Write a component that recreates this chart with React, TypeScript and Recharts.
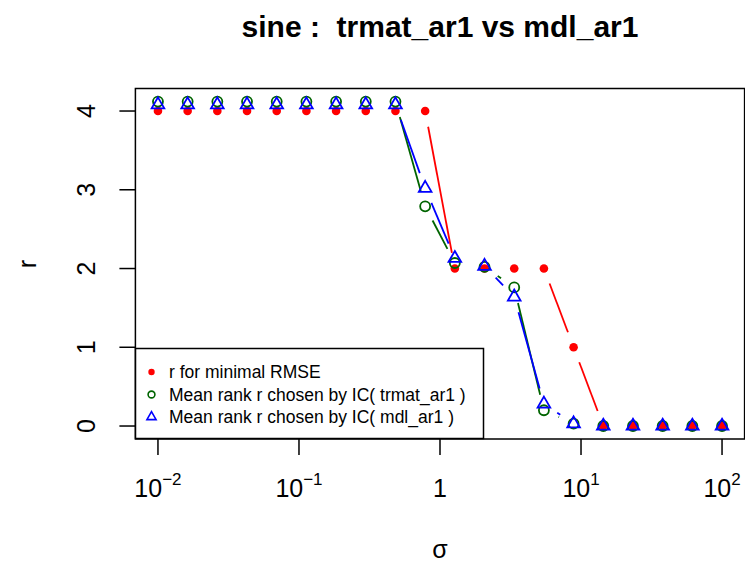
import {
  ComposedChart,
  Scatter,
  XAxis,
  YAxis,
  ReferenceArea,
  Legend,
} from 'recharts'

// sigma grid (20 log-spaced values, 1e-2 .. 1e2)
const sigma = [
  0.01, 0.01623777, 0.02636651, 0.04281332, 0.06951928, 0.1128838, 0.1832981,
  0.2976351, 0.483293, 0.78476, 1.274275, 2.069138, 3.359818, 5.455595,
  8.858668, 14.3845, 23.35721, 37.9269, 61.58482, 100,
]
const rMinRmse = [4, 4, 4, 4, 4, 4, 4, 4, 4, 4, 2, 2, 2, 2, 1, 0, 0, 0, 0, 0]
const rTrmat = [
  4.12, 4.12, 4.12, 4.12, 4.12, 4.12, 4.12, 4.12, 4.12, 2.79, 2.07, 2.02, 1.76,
  0.2, 0.03, 0, 0, 0, 0, 0,
]
const rMdl = [
  4.08, 4.08, 4.08, 4.08, 4.08, 4.08, 4.08, 4.08, 4.08, 3.02, 2.13, 2.03, 1.64,
  0.28, 0.03, 0, 0, 0, 0, 0,
]
const xTicks = [0.01, 0.1, 1, 10, 100]
const yTicks = [0, 1, 2, 3, 4]
const legendLabels = [
  'r for minimal RMSE',
  'Mean rank r chosen by IC( trmat_ar1 )',
  'Mean rank r chosen by IC( mdl_ar1 )',
]

const RED = '#ff0000'
const GREEN = '#006400'
const BLUE = '#0000ff'
const FONT = '"Liberation Sans", Arial, Helvetica, sans-serif'

// R's usr extends the data range by 4%
const XMIN = Math.pow(10, -2.16)
const XMAX = Math.pow(10, 2.16)
const YMIN = -0.1648
const YMAX = 4.2848

const GAP = 16 // type="b" gap around each point, px

const toRows = (ys: number[]) => sigma.map((x, i) => ({ x, y: ys[i] }))
const rmseRows = toRows(rMinRmse)
const trmatRows = toRows(rTrmat)
const mdlRows = toRows(rMdl)

const gappedLine = (color: string) => (props: any) => {
  const pts: { x: number; y: number }[] = props.points || []
  const segs = []
  for (let i = 0; i < pts.length - 1; i++) {
    const a = pts[i]
    const b = pts[i + 1]
    const dx = b.x - a.x
    const dy = b.y - a.y
    const len = Math.hypot(dx, dy)
    if (len <= 2 * GAP) continue
    const f = GAP / len
    segs.push(
      <line
        key={i}
        x1={a.x + dx * f}
        y1={a.y + dy * f}
        x2={b.x - dx * f}
        y2={b.y - dy * f}
        stroke={color}
        strokeWidth={1.8}
      />
    )
  }
  return <g>{segs}</g>
}

const dotShape = (r: number) => (p: any) => (
  <circle cx={p.cx} cy={p.cy} r={r} fill={RED} stroke="none" />
)
const ringShape = (r: number) => (p: any) => (
  <circle cx={p.cx} cy={p.cy} r={r} fill="none" stroke={GREEN} strokeWidth={1.8} />
)
const triPath = (cx: number, cy: number, R: number) => {
  const r = 1.555 * R
  const xc = 1.347 * R
  const yc = 0.778 * R
  return `M${cx},${cy - r}L${cx + xc},${cy + yc}L${cx - xc},${cy + yc}Z`
}
const triShape = (R: number) => (p: any) => (
  <path d={triPath(p.cx, p.cy, R)} fill="none" stroke={BLUE} strokeWidth={1.8} />
)

const XTick = ({ x, y, payload }: any) => {
  const e = Math.round(Math.log10(payload.value))
  return (
    <text x={x} y={y + 40} textAnchor="middle" fontSize={25} fontFamily={FONT} fill="#000">
      {e === 0 ? (
        '1'
      ) : (
        <>
          <tspan>10</tspan>
          <tspan dy={-12} fontSize={17}>
            {e < 0 ? `\u2212${-e}` : `${e}`}
          </tspan>
        </>
      )}
    </text>
  )
}

const YTick = ({ x, y, payload }: any) => {
  const tx = x - 22
  return (
    <text
      x={tx}
      y={y}
      transform={`rotate(-90, ${tx}, ${y})`}
      textAnchor="middle"
      fontSize={25}
      fontFamily={FONT}
      fill="#000"
    >
      {payload.value}
    </text>
  )
}

const LegendBox = () => (
  <svg width={349} height={92} style={{ display: 'block', overflow: 'visible' }}>
    <rect x={0.5} y={0.5} width={348} height={90} fill="#fff" stroke="#000" strokeWidth={1.5} />
    {legendLabels.map((label, i) => {
      const cy = 24 + i * 22.5
      return (
        <g key={label}>
          {i === 0 && <circle cx={16.5} cy={cy} r={3.2} fill={RED} />}
          {i === 1 && (
            <circle cx={16.5} cy={cy} r={3.4} fill="none" stroke={GREEN} strokeWidth={1.6} />
          )}
          {i === 2 && (
            <path d={triPath(16.5, cy, 3.4)} fill="none" stroke={BLUE} strokeWidth={1.6} />
          )}
          <text x={34} y={cy + 6.3} fontSize={17.5} fontFamily={FONT} fill="#000" style={{ whiteSpace: 'pre' }}>
            {label}
          </text>
        </g>
      )
    })}
  </svg>
)

export default function App() {
  return (
    <div style={{ position: 'absolute', left: 0, top: 0, width: 745, height: 564, background: '#fff' }}>
      <ComposedChart
        width={745}
        height={564}
        margin={{ top: 88.6, right: 0.4, bottom: 0, left: 0 }}
      >
        <XAxis
          dataKey="x"
          type="number"
          scale="log"
          domain={[XMIN, XMAX]}
          allowDataOverflow
          ticks={xTicks}
          tick={<XTick />}
          tickSize={16}
          tickLine={{ stroke: '#000', strokeWidth: 1.5 }}
          axisLine={false}
          height={125}
          interval={0}
        />
        <YAxis
          dataKey="y"
          type="number"
          domain={[YMIN, YMAX]}
          allowDataOverflow
          ticks={yTicks}
          tick={<YTick />}
          tickSize={16}
          tickLine={{ stroke: '#000', strokeWidth: 1.5 }}
          axisLine={false}
          width={135.4}
          interval={0}
        />
        <ReferenceArea
          x1={XMIN}
          x2={XMAX}
          y1={YMIN}
          y2={YMAX}
          fill="none"
          fillOpacity={0}
          stroke="#000"
          strokeWidth={1.5}
          ifOverflow="visible"
        />
        <Scatter
          name={legendLabels[0]}
          data={rmseRows}
          dataKey="y"
          line={gappedLine(RED)}
          shape={dotShape(4.3)}
          isAnimationActive={false}
        />
        <Scatter
          name={legendLabels[1]}
          data={trmatRows}
          dataKey="y"
          line={gappedLine(GREEN)}
          shape={ringShape(5)}
          isAnimationActive={false}
        />
        <Scatter
          name={legendLabels[2]}
          data={mdlRows}
          dataKey="y"
          line={gappedLine(BLUE)}
          shape={triShape(4.7)}
          isAnimationActive={false}
        />
        <Legend
          content={<LegendBox />}
          layout="horizontal"
          verticalAlign="middle"
          wrapperStyle={{ position: 'absolute', left: 135, top: 347.8, width: 349, height: 92 }}
        />
      </ComposedChart>
      <svg
        width={745}
        height={564}
        style={{ position: 'absolute', left: 0, top: 0, pointerEvents: 'none' }}
      >
        <text
          x={440}
          y={37}
          textAnchor="middle"
          fontSize={30}
          fontWeight="bold"
          fontFamily={FONT}
          style={{ whiteSpace: 'pre' }}
        >
          {'sine :  trmat_ar1 vs mdl_ar1'}
        </text>
        <text x={440} y={558} textAnchor="middle" fontSize={25} fontFamily={FONT}>
          σ
        </text>
        <text
          x={36}
          y={264}
          transform="rotate(-90, 36, 264)"
          textAnchor="middle"
          fontSize={25}
          fontFamily={FONT}
        >
          r
        </text>
      </svg>
    </div>
  )
}
